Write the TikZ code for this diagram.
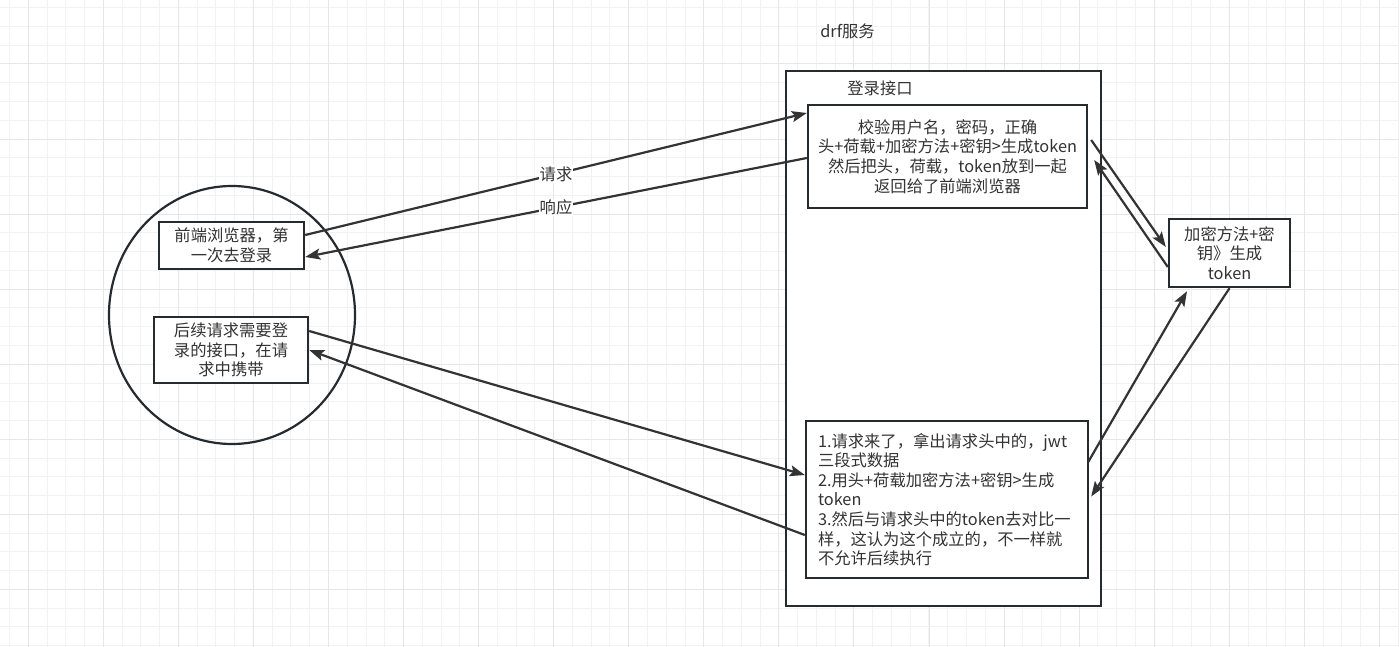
\documentclass[tikz,border=0pt]{standalone}
\usepackage{fontspec}
\setmainfont{Noto Sans CJK SC}
\usetikzlibrary{arrows.meta,shapes.geometric}
\definecolor{gridminor}{HTML}{F2F2F2}
\definecolor{gridmajor}{HTML}{E6E6E6}
\definecolor{boxc}{HTML}{262B30}
\definecolor{linec}{HTML}{333333}
\definecolor{txtc}{HTML}{333333}
\tikzset{
  box/.style={draw=boxc, line width=2.4pt, fill=white, text=txtc, inner sep=0pt,
    font=\fontsize{16.3}{19.6}\selectfont, align=center},
  lbl/.style={text=txtc, font=\fontsize{16.3}{19.6}\selectfont, inner sep=1pt},
  arr/.style={draw=linec, line width=2.2pt, -{Stealth[length=15pt,width=11pt,inset=3pt]}},
  elab/.style={fill=white, text=txtc, font=\fontsize{16.3}{19.6}\selectfont, inner sep=1pt}
}
\begin{document}
\begin{tikzpicture}[x=1pt,y=-1pt]
\useasboundingbox (0,0) rectangle (1399,647);
\fill[white] (0,0) rectangle (1399,647);
% grid
\foreach \i in {0,...,74} {
  \draw[gridminor, line width=1pt] (9.5+\i*18.765,0) -- (9.5+\i*18.765,647);
}
\foreach \i in {0,...,34} {
  \draw[gridminor, line width=1pt] (0,7.7+\i*18.765) -- (1399,7.7+\i*18.765);
}
\foreach \i in {0,...,18} {
  \draw[gridmajor, line width=1pt] (28.3+\i*75.06,0) -- (28.3+\i*75.06,647);
}
\foreach \i in {0,...,7} {
  \draw[gridmajor, line width=1pt] (0,64+\i*75.06) -- (1399,64+\i*75.06);
}

% service container
\node[box, minimum width=315pt, minimum height=535pt] (svc) at (943.5,338.5) {};
\node[lbl] (svclbl) at (847.5,31.5) {drf服务};
\node[lbl] (loginlbl) at (880,88) {登录接口};

\node[box, minimum width=279pt, minimum height=103pt] (b1) at (947.5,156.5)
  {校验用户名，密码，正确\\头+荷载+加密方法+密钥>生成token\\然后把头，荷载，token放到一起\\返回给了前端浏览器};
\node[box, minimum width=282pt, minimum height=157pt, text width=258pt, align=left] (b2) at (947,499.5)
  {1.请求来了，拿出请求头中的，jwt\\三段式数据\\2.用头+荷载加密方法+密钥>生成\\token\\3.然后与请求头中的token去对比一\\样，这认为这个成立的，不一样就\\不允许后续执行};

\node[box, minimum width=121pt, minimum height=68pt] (tok) at (1229.5,253)
  {加密方法+密\\钥》生成\\token};

% front end ellipse
\node[ellipse, draw=boxc, line width=2.2pt, minimum width=246pt, minimum height=258pt, inner sep=0pt] (fe) at (232,315) {};
\node[box, minimum width=145pt, minimum height=47pt] (fe1) at (231.5,245.5)
  {前端浏览器，第\\一次去登录};
\node[box, minimum width=154pt, minimum height=66pt] (fe2) at (231,350)
  {后续请求需要登\\录的接口，在请\\求中携带};

% connectors
\draw[arr] ([yshift=10.5pt]fe1.east) -- node[elab, pos=0.5] (lq) {请求} ([yshift=43.5pt]b1.west);
\draw[arr] ([yshift=-1.5pt]b1.west) -- node[elab, pos=0.5] (lr) {响应} ([yshift=-11.5pt]fe1.east);
\draw[arr] ([yshift=19pt]fe2.east) -- ([yshift=24.5pt]b2.west);
\draw[arr] ([yshift=-35.5pt]b2.west) -- (fe2.east);
\draw[arr] ([xshift=3pt,yshift=16.5pt]b1.east) -- ([xshift=-2pt,yshift=6pt]tok.west);
\draw[arr] ([yshift=-14pt]tok.west) -- ([xshift=6pt,yshift=-3.5pt]b1.east);
\draw[arr] ([xshift=-1pt,yshift=37.5pt]b2.east) -- ([xshift=-42.5pt,yshift=-3pt]tok.south);
\draw[arr] (tok.south) -- ([xshift=2pt,yshift=3pt]b2.east);
\end{tikzpicture}
\end{document}
